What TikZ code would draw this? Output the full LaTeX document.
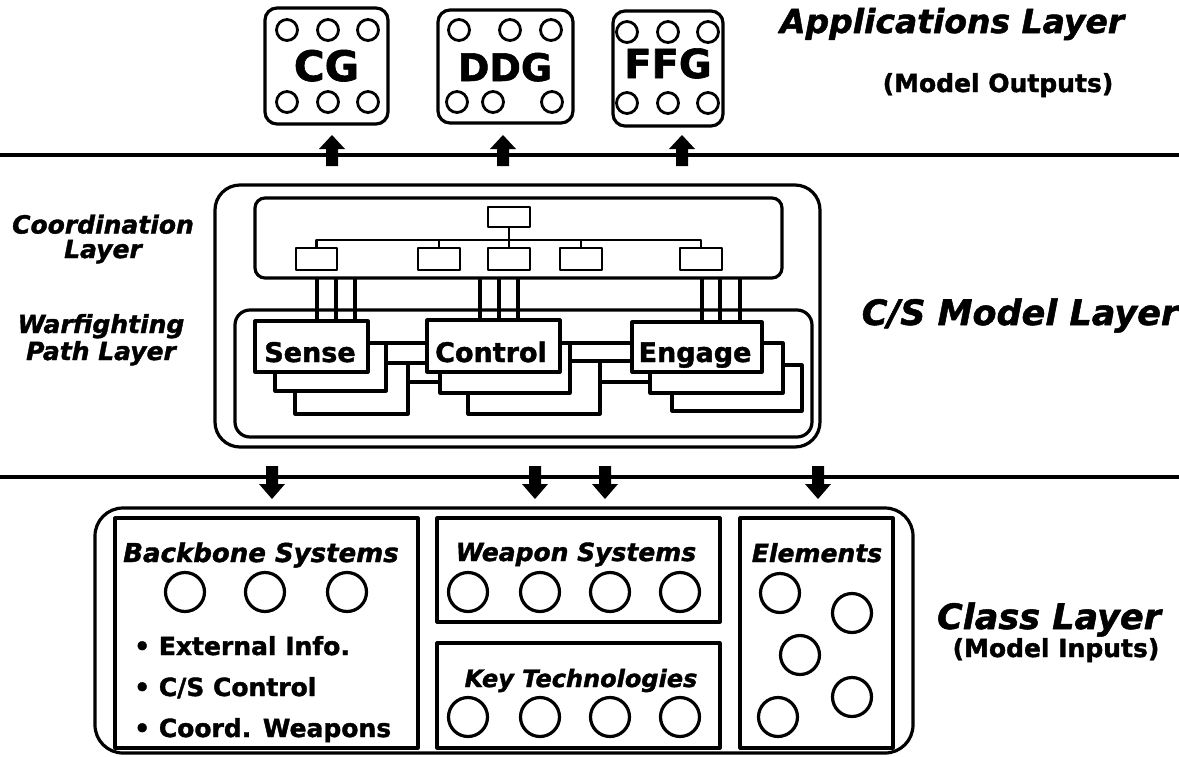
\documentclass[tikz,border=0pt]{standalone}
\usepackage{fontspec}
\setmainfont{DejaVu Sans}[BoldFont={DejaVu Sans Bold},ItalicFont={DejaVu Sans Oblique},BoldItalicFont={DejaVu Sans Bold Oblique},
  BoldFeatures={FakeBold=1.5},BoldItalicFeatures={FakeBold=1.5}]
\begin{document}
\begin{tikzpicture}[x=1pt,y=-1pt,line join=round,
  lw/.style={line width=3.2pt},
  box/.style={draw,line width=3.2pt,inner sep=0pt,outer sep=0pt},
  bt/.style={font=\fontsize{25}{25.5}\selectfont\bfseries,inner sep=0pt},
  it/.style={font=\fontsize{25}{25.5}\selectfont\bfseries\itshape,inner sep=0pt,align=center},
  big/.style={font=\fontsize{42}{42}\selectfont\bfseries,inner sep=0pt},
  title/.style={font=\fontsize{35}{35}\selectfont\bfseries\itshape,inner sep=0pt},
  sc/.style={line width=2.8pt},
  bc/.style={line width=3.2pt}]
\useasboundingbox (0,0) rectangle (1179,756);

% ---------------- Applications layer ----------------
\node[box,rounded corners=12pt,minimum width=123pt,minimum height=116pt] (cg) at (326.5,66) {};
\node[box,rounded corners=12pt,minimum width=135pt,minimum height=113pt] (ddg) at (505.5,66.5) {};
\node[box,rounded corners=12pt,minimum width=110pt,minimum height=115pt] (ffg) at (668,68.5) {};
\node[big,anchor=base] (cgt) at (326.5,81) {CG};
\node[big,anchor=base,font=\fontsize{38}{38}\selectfont\bfseries] (ddgt) at (505,81) {DDG};
\node[big,anchor=base,font=\fontsize{40}{40}\selectfont\bfseries] (ffgt) at (668,78) {FFG};
\foreach \p in {(287,30),(328,30),(368,30),(287,102),(328,102),(368,102),
                (459,30),(510,30),(551,30),(457,102),(493,102),(552,102),
                (627,32),(668,32),(708,32),(627,103),(668,103),(708,103)}
  \draw[sc] \p circle (10.5);

\node[title,anchor=base,font=\fontsize{33}{33}\selectfont\bfseries\itshape] (applbl) at (952,33) {Applications Layer};
\node[bt,anchor=base] (outlbl) at (998,92) {(Model Outputs)};

% layer rules
\coordinate (r1a) at (0,155); \coordinate (r1b) at (1179,155);
\coordinate (r2a) at (0,477); \coordinate (r2b) at (1179,477);
\draw[line width=3.2pt] (r1a) -- (r1b);
\draw[line width=3.2pt] (r2a) -- (r2b);

% up arrows
\foreach \x in {332,503,682}
  \fill (\x-6,166) -- (\x-6,149) -- (\x-13,149) -- (\x,135) -- (\x+13,149) -- (\x+6,149) -- (\x+6,166) -- cycle;
% down arrows
\foreach \x in {272,535,605,818}
  \fill (\x-6,466) -- (\x+6,466) -- (\x+6,484) -- (\x+13,484) -- (\x,499) -- (\x-13,484) -- (\x-6,484) -- cycle;

% ---------------- C/S model layer ----------------
\node[box,rounded corners=25pt,minimum width=605pt,minimum height=262pt] (cs) at (517.5,316) {};
\node[box,rounded corners=10pt,minimum width=527pt,minimum height=80pt] (coord) at (518.5,238) {};
\node[box,rounded corners=15pt,minimum width=577pt,minimum height=127pt] (warf) at (523.5,373.5) {};

\node[title,anchor=base] (cslbl) at (1020,325) {C/S Model Layer};
\node[it,anchor=base,font=\fontsize{25}{24.5}\selectfont\bfseries\itshape] (coordlbl) at (103,258) {Coordination\\Layer};
\node[it,anchor=base,font=\fontsize{25}{27}\selectfont\bfseries\itshape] (warflbl) at (101,360) {Warfighting\\Path Layer};

% coordination hierarchy
\node[box,minimum width=42pt,minimum height=20pt,line width=2.8pt] (t0) at (509,217) {};
\node[box,minimum width=41pt,minimum height=22pt,line width=2.8pt] (c1) at (316.5,259) {};
\node[box,minimum width=42pt,minimum height=22pt,line width=2.8pt] (c2) at (439,259) {};
\node[box,minimum width=42pt,minimum height=22pt,line width=2.8pt] (c3) at (509,259) {};
\node[box,minimum width=42pt,minimum height=22pt,line width=2.8pt] (c4) at (581,259) {};
\node[box,minimum width=42pt,minimum height=22pt,line width=2.8pt] (c5) at (701,259) {};
\draw[line width=2.8pt] (t0.south) -- (c3.north);
\draw[line width=2.8pt] (c1.north) -- ++(0,-8) -| (c5.north);
\draw[line width=2.8pt] (c2.north) -- ++(0,-8);
\draw[line width=2.8pt] (c4.north) -- ++(0,-8);

% warfighting path boxes
\node[box,fill=white,minimum width=113pt,minimum height=51pt] (sense) at (311.5,346.5) {};
\node[box,fill=white,minimum width=133pt,minimum height=52pt] (control) at (493.5,346) {};
\node[box,fill=white,minimum width=130pt,minimum height=50pt] (engage) at (697,347) {};
\node[bt,anchor=base,font=\fontsize{27}{27}\selectfont\bfseries] (senset) at (310,362) {Sense};
\node[bt,anchor=base,font=\fontsize{27}{27}\selectfont\bfseries] (controlt) at (491,362) {Control};
\node[bt,anchor=base,font=\fontsize{27}{27}\selectfont\bfseries] (engaget) at (695,362) {Engage};

% links from coordination layer
\foreach \x in {317,336,355}  \draw[lw] (\x,0 |- coord.south) -- (\x,0 |- sense.north);
\foreach \x in {480,499,518}  \draw[lw] (\x,0 |- coord.south) -- (\x,0 |- control.north);
\foreach \x in {702,720,740}  \draw[lw] (\x,0 |- coord.south) -- (\x,0 |- engage.north);

% stacked shadows and links
\draw[lw] (275,0 |- sense.south) -- (275,391) -- (386,391) -- (386,343);
\draw[lw] (295,391) -- (295,414) -- (408,414) -- (408,363);
\draw[lw] (sense.east |- 0,343) -- (control.west |- 0,343);
\draw[lw] (386,363) -- (control.west |- 0,363);
\draw[lw] (408,382) -- (440,382);

\draw[lw] (440,0 |- control.south) -- (440,393) -- (570,393) -- (570,343);
\draw[lw] (468,393) -- (468,414) -- (600,414) -- (600,361);
\draw[lw] (control.east |- 0,343) -- (engage.west |- 0,343);
\draw[lw] (570,361) -- (engage.west |- 0,361);
\draw[lw] (600,382) -- (650,382);

\draw[lw] (650,0 |- engage.south) -- (650,393) -- (783,393) -- (783,343) -- (engage.east |- 0,343);
\draw[lw] (672,393) -- (672,411) -- (802,411) -- (802,365) -- (783,365);

% ---------------- Class layer ----------------
\node[box,rounded corners=28pt,minimum width=818pt,minimum height=245pt] (cls) at (504,630.5) {};
\node[box,minimum width=303pt,minimum height=230pt] (bb) at (266.5,633) {};
\node[box,minimum width=283pt,minimum height=104pt] (ws) at (578.5,570) {};
\node[box,minimum width=283pt,minimum height=105pt] (kt) at (578.5,695.5) {};
\node[box,minimum width=153pt,minimum height=230pt] (el) at (816.5,633) {};

\node[it,anchor=base,font=\fontsize{26}{26}\selectfont\bfseries\itshape] (bbt) at (261,562) {Backbone Systems};
\node[it,anchor=base] (wst) at (576,561) {Weapon Systems};
\node[it,anchor=base,font=\fontsize{24}{24}\selectfont\bfseries\itshape] (ktt) at (581,687) {Key Technologies};
\node[it,anchor=base] (elt) at (817,562) {Elements};

\node[bt,anchor=base west] (b1) at (134,655) {• External Info.};
\node[bt,anchor=base west] (b2) at (134,696) {• C/S Control};
\node[bt,anchor=base west] (b3) at (134,737) {• Coord. Weapons};

\foreach \p in {(185,592),(265,592),(347,592),
                (468,592),(540,592),(610,592),(680,592),
                (468,717),(540,717),(610,717),(680,717),
                (780,593),(852,613),(800,655),(852,697),(778,717)}
  \draw[bc] \p circle (19.5);

\node[title,anchor=base] (clslbl) at (1049,629) {Class Layer};
\node[bt,anchor=base] (inlbl) at (1056,657) {(Model Inputs)};
\end{tikzpicture}
\end{document}
